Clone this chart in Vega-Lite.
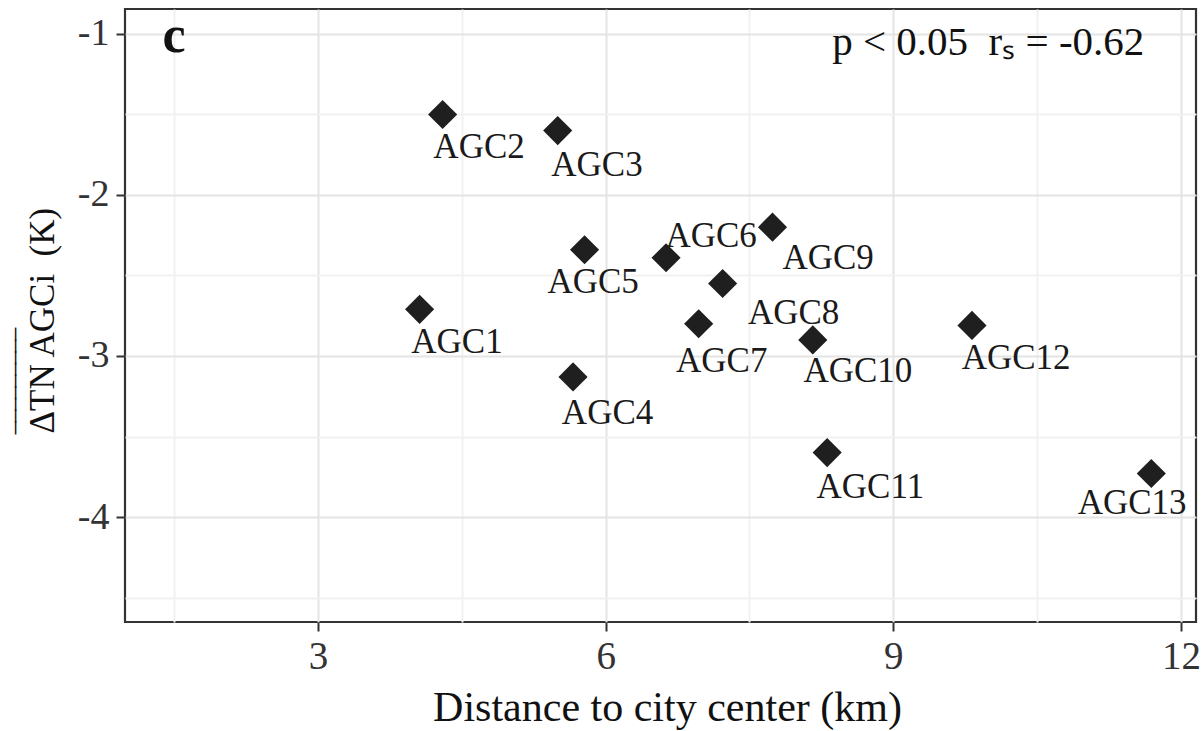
{
  "$schema": "https://vega.github.io/schema/vega-lite/v6.json",
  "autosize": "none",
  "width": 1071,
  "height": 613,
  "padding": {"left": 125, "top": 9, "right": 5, "bottom": 109},
  "background": "white",
  "config": {
    "font": "Liberation Serif",
    "view": {"stroke": "#333333", "strokeWidth": 2.2}
  },
  "datasets": {
    "pts": [
      {"name": "AGC1", "dist": 4.06, "dT": -2.71, "lx": 4.45, "ly": -2.98},
      {"name": "AGC2", "dist": 4.30, "dT": -1.50, "lx": 4.68, "ly": -1.77},
      {"name": "AGC3", "dist": 5.50, "dT": -1.60, "lx": 5.91, "ly": -1.88},
      {"name": "AGC4", "dist": 5.66, "dT": -3.13, "lx": 6.02, "ly": -3.42},
      {"name": "AGC5", "dist": 5.78, "dT": -2.34, "lx": 5.87, "ly": -2.61},
      {"name": "AGC6", "dist": 6.63, "dT": -2.39, "lx": 7.10, "ly": -2.32},
      {"name": "AGC7", "dist": 6.97, "dT": -2.80, "lx": 7.21, "ly": -3.10},
      {"name": "AGC8", "dist": 7.22, "dT": -2.55, "lx": 7.96, "ly": -2.80},
      {"name": "AGC9", "dist": 7.74, "dT": -2.20, "lx": 8.32, "ly": -2.46},
      {"name": "AGC10", "dist": 8.16, "dT": -2.90, "lx": 8.63, "ly": -3.16},
      {"name": "AGC11", "dist": 8.31, "dT": -3.60, "lx": 8.76, "ly": -3.88},
      {"name": "AGC12", "dist": 9.82, "dT": -2.81, "lx": 10.28, "ly": -3.08},
      {"name": "AGC13", "dist": 11.69, "dT": -3.73, "lx": 11.49, "ly": -3.98}
    ],
    "notes": [
      {"txt": "c", "ax": 1.50, "ay": -1.112, "kind": "panel"},
      {"txt": "p < 0.05\u00a0\u00a0r\u209b = -0.62", "ax": 9.99, "ay": -1.13, "kind": "stat"}
    ]
  },
  "layer": [
    {
      "data": {"name": "pts"},
      "mark": {"type": "point", "shape": "diamond", "filled": true, "size": 850, "color": "#1f1f1f", "opacity": 1},
      "encoding": {
        "x": {
          "field": "dist", "type": "quantitative",
          "scale": {"domain": [0.988, 12.156], "nice": false, "zero": false},
          "axis": {
            "title": "Distance to city center (km)",
            "values": [1.5, 3, 4.5, 6, 7.5, 9, 10.5, 12],
            "labelExpr": "datum.value % 3 === 0 ? '' + datum.value : ''",
            "domain": false,
            "grid": true,
            "gridColor": {"condition": {"test": "datum.value % 3 !== 0", "value": "#f1f1f1"}, "value": "#e4e4e4"},
            "gridWidth": 2,
            "tickOpacity": {"condition": {"test": "datum.value % 3 !== 0", "value": 0}, "value": 1},
            "tickColor": "#333333",
            "tickWidth": 2,
            "tickSize": 9,
            "labelFontSize": 39,
            "labelColor": "#333333",
            "labelPadding": 6,
            "titleFontSize": 42,
            "titleFontWeight": "normal",
            "titleColor": "#111111",
            "titleBaseline": "alphabetic",
            "titleY": 98,
            "titleX": 542
          }
        },
        "y": {
          "field": "dT", "type": "quantitative",
          "scale": {"domain": [-4.652, -0.845], "nice": false, "zero": false},
          "axis": {
            "title": ["\u203e\u203e\u203e\u203e\u203e\u203e\u203e\u203e\u203e", "\u0394TN AGCi\u00a0\u00a0(K)"],
            "values": [-4.5, -4, -3.5, -3, -2.5, -2, -1.5, -1],
            "labelExpr": "datum.value % 1 === 0 ? '' + datum.value : ''",
            "domain": false,
            "grid": true,
            "gridColor": {"condition": {"test": "datum.value % 1 !== 0", "value": "#f1f1f1"}, "value": "#e4e4e4"},
            "gridWidth": 2,
            "tickOpacity": {"condition": {"test": "datum.value % 1 !== 0", "value": 0}, "value": 1},
            "tickColor": "#333333",
            "tickWidth": 2,
            "tickSize": 9,
            "labelFontSize": 38,
            "labelColor": "#333333",
            "labelPadding": 7,
            "titleFontSize": 35,
            "titleFontWeight": "normal",
            "titleColor": "#111111",
            "titleAngle": -90,
            "titleAlign": "left",
            "titleBaseline": "alphabetic",
            "titleLineHeight": 11,
            "titleX": -83,
            "titleY": 424
          }
        }
      }
    },
    {
      "data": {"name": "pts"},
      "mark": {"type": "text", "align": "center", "baseline": "alphabetic", "fontSize": 35, "color": "#1a1a1a"},
      "encoding": {
        "x": {"field": "lx", "type": "quantitative", "scale": {"domain": [0.988, 12.156], "nice": false, "zero": false}},
        "y": {"field": "ly", "type": "quantitative", "scale": {"domain": [-4.652, -0.845], "nice": false, "zero": false}},
        "text": {"field": "name"}
      }
    },
    {
      "data": {"name": "notes"},
      "transform": [{"filter": "datum.kind === 'panel'"}],
      "mark": {"type": "text", "align": "center", "baseline": "alphabetic", "color": "#111111", "fontSize": 52, "fontWeight": "bold"},
      "encoding": {
        "x": {"field": "ax", "type": "quantitative", "scale": {"domain": [0.988, 12.156], "nice": false, "zero": false}},
        "y": {"field": "ay", "type": "quantitative", "scale": {"domain": [-4.652, -0.845], "nice": false, "zero": false}},
        "text": {"field": "txt"}
      }
    },
    {
      "data": {"name": "notes"},
      "transform": [{"filter": "datum.kind === 'stat'"}],
      "mark": {"type": "text", "align": "center", "baseline": "alphabetic", "color": "#111111", "fontSize": 41},
      "encoding": {
        "x": {"field": "ax", "type": "quantitative", "scale": {"domain": [0.988, 12.156], "nice": false, "zero": false}},
        "y": {"field": "ay", "type": "quantitative", "scale": {"domain": [-4.652, -0.845], "nice": false, "zero": false}},
        "text": {"field": "txt"}
      }
    }
  ]
}
